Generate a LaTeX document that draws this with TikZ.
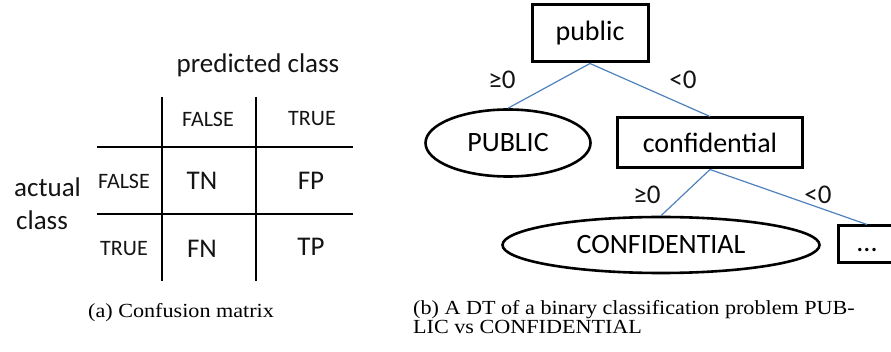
\documentclass[tikz,border=0pt]{standalone}
\usepackage{fontspec}
\setmainfont{Liberation Serif}
\newfontfamily\calfont{Carlito}
\usetikzlibrary{shapes.geometric}
\definecolor{edgeblue}{RGB}{79,129,189}
\definecolor{textblk}{RGB}{20,20,20}
\tikzset{
  big/.style={font=\calfont\fontsize{27}{32}\selectfont, inner sep=0pt, text=textblk},
  small/.style={font=\calfont\fontsize{22}{26}\selectfont, inner sep=0pt, text=textblk},
  gridline/.style={line width=1.6pt, black},
  testbox/.style={draw, line width=3pt, rectangle, inner sep=0pt, font=\calfont\fontsize{28}{32}\selectfont},
  leafbox/.style={draw, line width=2.6pt, ellipse, inner sep=0pt, font=\calfont\fontsize{28}{32}\selectfont},
  branch/.style={edgeblue, line width=1.2pt},
  captext/.style={font=\fontsize{21.5}{19}\selectfont, inner sep=0pt, anchor=base west, xscale=1.03, yscale=0.93, transform shape}
}
\begin{document}
\begin{tikzpicture}[x=1pt,y=-1pt]
\useasboundingbox (0,0) rectangle (891,352);
% confusion matrix
\node[big] (pc) at (258,65) {predicted class};
\coordinate (v1t) at (162,97); \coordinate (v1b) at (162,281);
\coordinate (v2t) at (256,97); \coordinate (v2b) at (256,281);
\coordinate (h1l) at (97,147); \coordinate (h1r) at (353,147);
\coordinate (h2l) at (97,214); \coordinate (h2r) at (353,214);
\draw[gridline] (v1t) -- (v1b);
\draw[gridline] (v2t) -- (v2b);
\draw[gridline] (h1l) -- (h1r);
\draw[gridline] (h2l) -- (h2r);
\node[small] (cf) at (208,119) {FALSE};
\node[small] (ct) at (312,119) {TRUE};
\node[small] (rf) at (124,181) {FALSE};
\node[small] (rt) at (124,249) {TRUE};
\node[big] (tn) at (202,181) {TN};
\node[big] (fp) at (311,181) {FP};
\node[big] (fn) at (202,249) {FN};
\node[big] (tp) at (311,247) {TP};
\node[big, anchor=west] (ac1) at (14,187) {actual};
\node[big, anchor=west] (ac2) at (16,220) {class};
% decision tree
\node[testbox, minimum width=116pt, minimum height=57pt] (pub) at (590,33.5) {public};
\node[leafbox, minimum width=165pt, minimum height=67pt] (pubE) at (508,143) {PUBLIC};
\node[testbox, minimum width=185pt, minimum height=50pt] (conf) at (710,143) {confidential};
\node[leafbox, minimum width=317pt, minimum height=56pt] (confE) at (661,245) {CONFIDENTIAL};
\node[testbox, minimum width=58pt, minimum height=37pt] (dots) at (867,244.5) {\vphantom{public}...};
\draw[branch] (pub.south) -- (pubE.north);
\draw[branch] (pub.south) -- (conf.north);
\draw[branch] (conf.south) -- (confE.north);
\draw[branch] (conf.south) -- (dots.north);
\node[big] (l1) at (502,80) {≥0};
\node[big] (l2) at (683,80) {<0};
\node[big] (l3) at (647,195) {≥0};
\node[big] (l4) at (818,195) {<0};
% captions
\node[captext] (capa) at (88,318) {(a) Confusion matrix};
\node[captext] (capb1) at (413,315) {(b) A DT of a binary classification problem PUB-};
\node[captext] (capb2) at (413,334) {LIC vs CONFIDENTIAL};
\end{tikzpicture}
\end{document}
